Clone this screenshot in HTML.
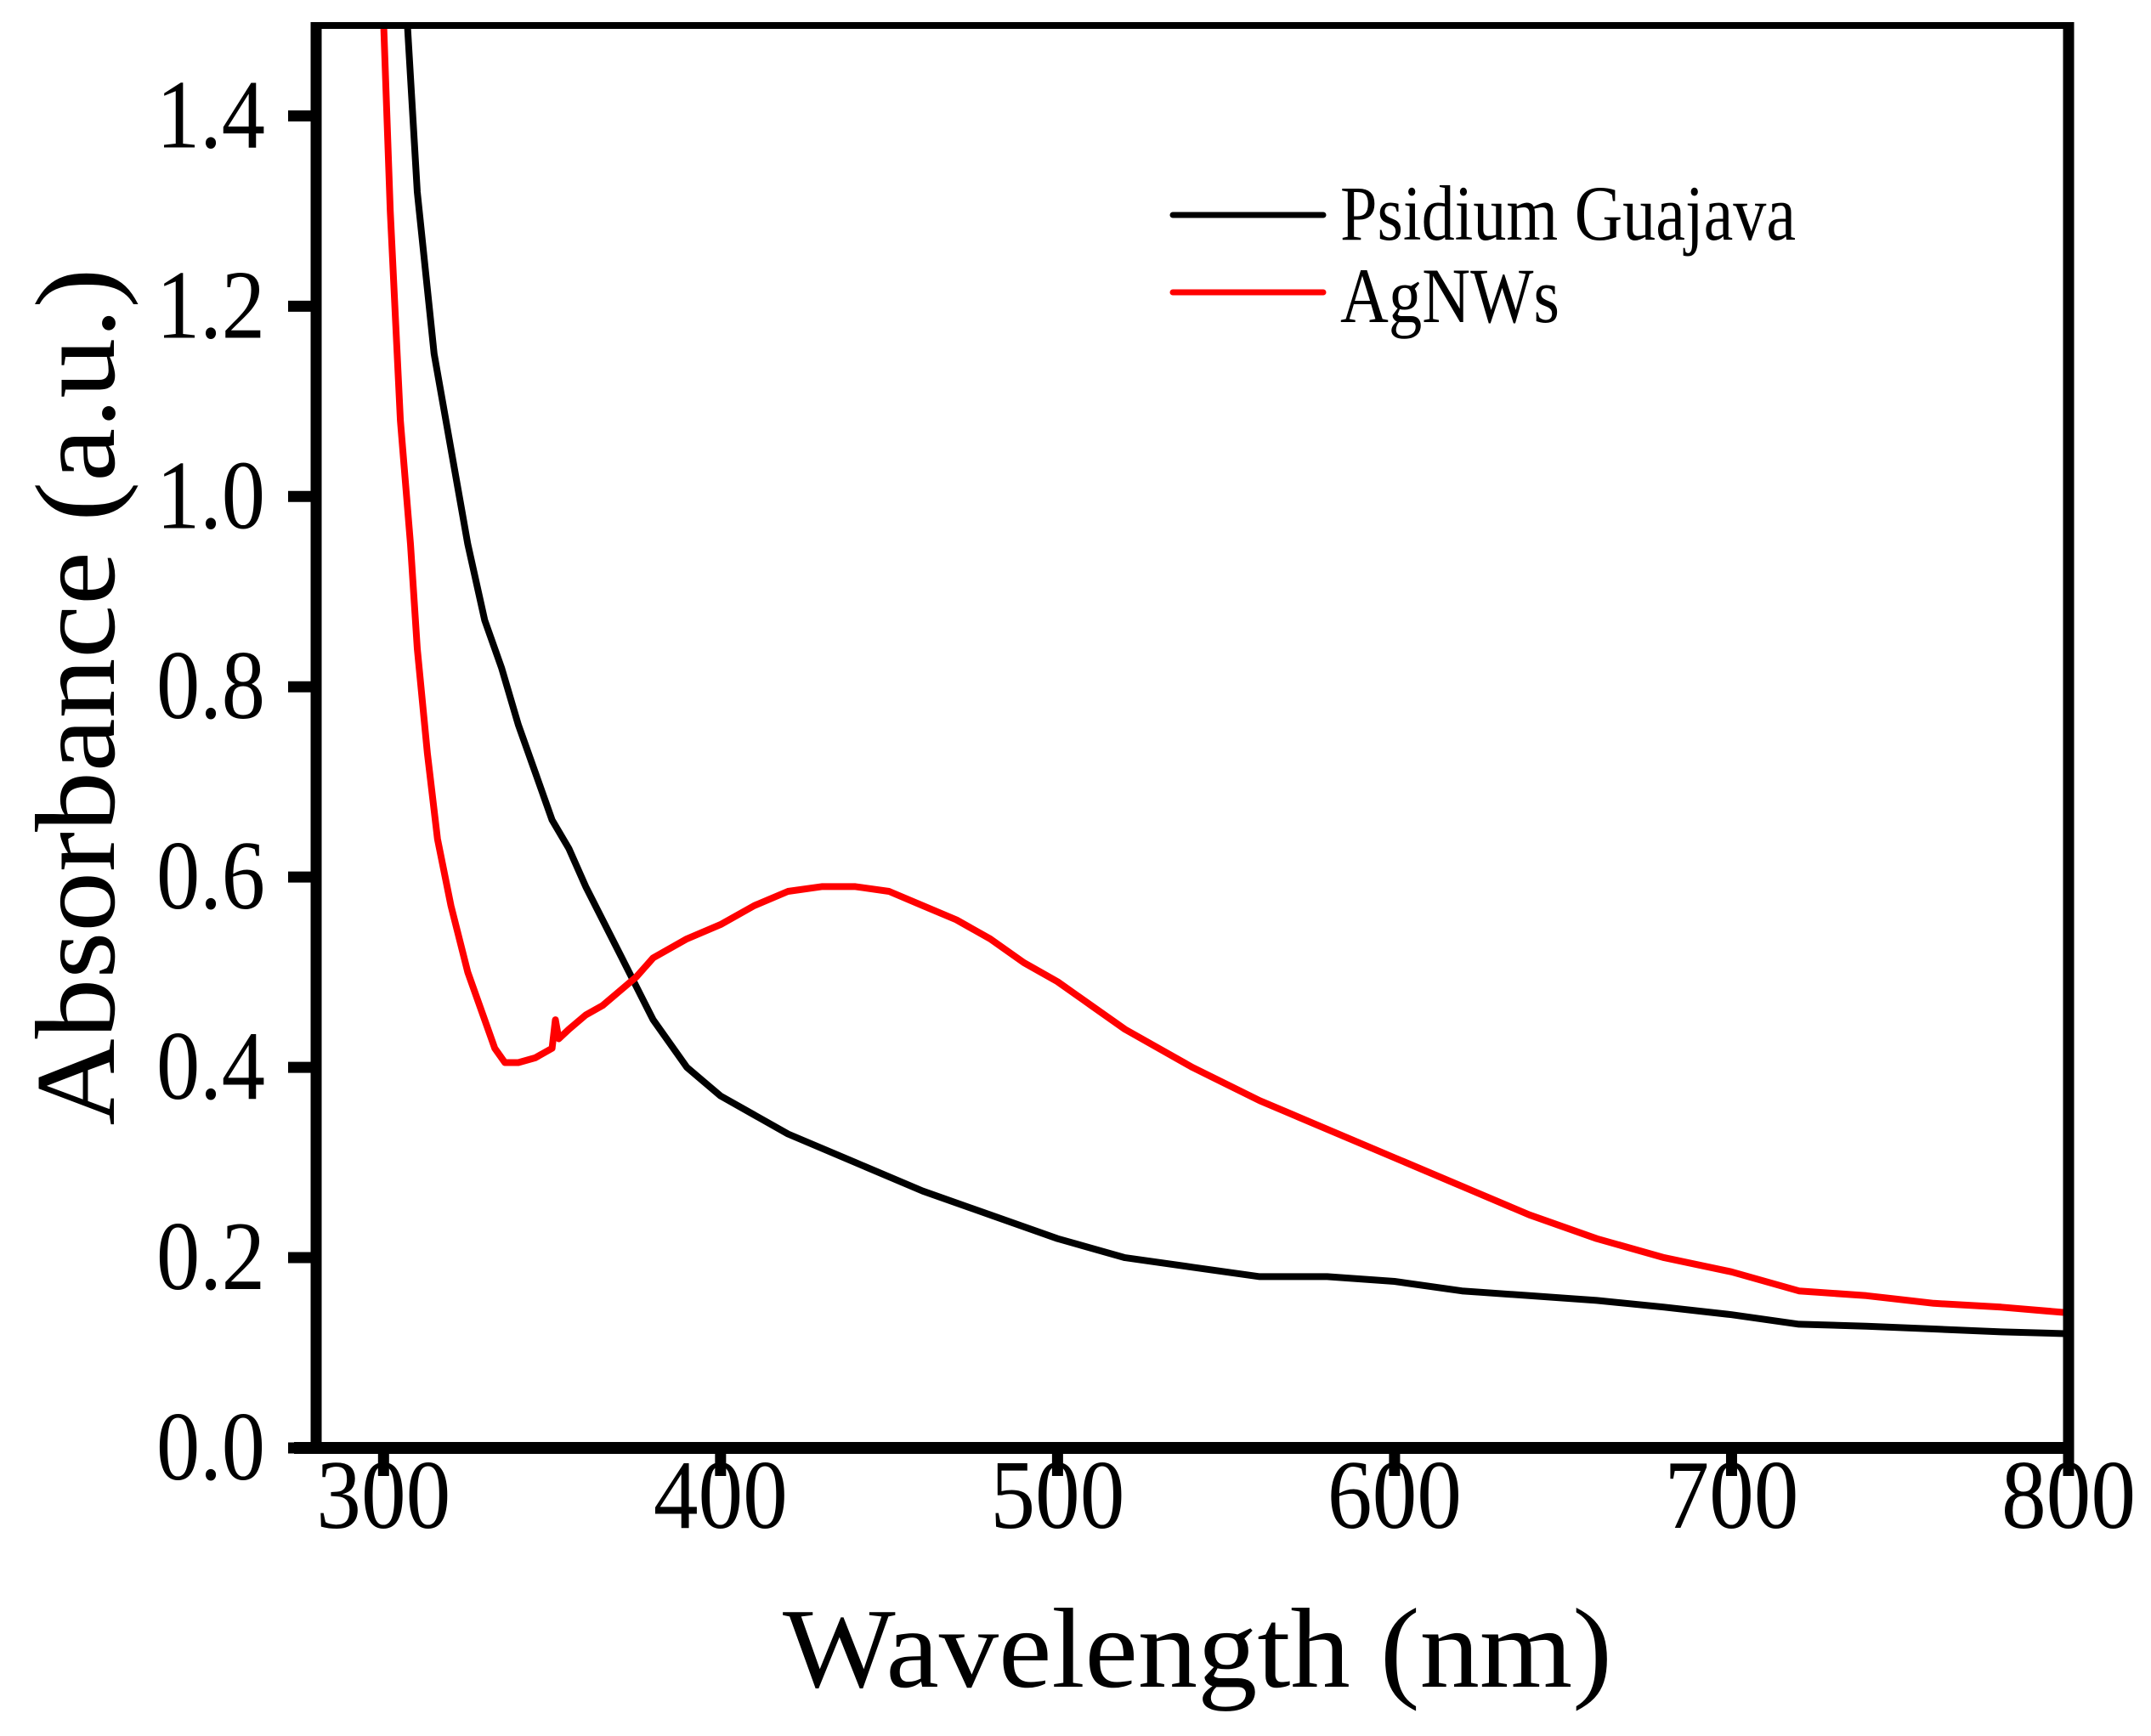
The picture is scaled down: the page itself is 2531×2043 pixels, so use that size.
<!DOCTYPE html>
<html><head><meta charset="utf-8"><style>
html,body{margin:0;padding:0;background:#fff;}
svg{display:block;}
text{font-family:"Liberation Serif","Times New Roman",serif;fill:#000;}
</style></head><body>
<svg id="chart" width="2531" height="2043" viewBox="0 0 2531 2043" xmlns="http://www.w3.org/2000/svg">
<defs><clipPath id="plotclip"><rect x="372" y="30" width="2062" height="1674"/></clipPath></defs>
<g id="series" clip-path="url(#plotclip)"></g>
<g id="axes"></g>
</svg>
<script>
const xTicks = [300, 400, 500, 600, 700, 800];
const yTicks = [0.0, 0.2, 0.4, 0.6, 0.8, 1.0, 1.2, 1.4];
const guavaX = [305,307,310,315,320,325,330,335,340,345,350,355,360,370,380,390,400,420,440,460,480,500,520,540,560,580,600,620,640,660,680,700,720,740,760,780,800];
const guavaY = [1.7,1.5,1.32,1.15,1.05,0.95,0.87,0.82,0.76,0.71,0.66,0.63,0.59,0.52,0.45,0.40,0.37,0.33,0.30,0.27,0.245,0.22,0.20,0.19,0.18,0.18,0.175,0.165,0.16,0.155,0.148,0.14,0.13,0.128,0.125,0.122,0.12];
const agX = [299,300,302,305,308,310,313,316,320,325,330,333,336,340,345,350,351,352,355,360,365,370,375,380,390,400,410,420,430,440,450,460,470,480,490,500,510,520,540,560,580,600,620,640,660,680,700,720,740,760,780,800];
const agY = [1.7,1.5,1.3,1.08,0.95,0.84,0.73,0.64,0.57,0.5,0.45,0.42,0.405,0.405,0.41,0.42,0.45,0.43,0.44,0.455,0.465,0.48,0.495,0.515,0.535,0.55,0.57,0.585,0.59,0.59,0.585,0.57,0.555,0.535,0.51,0.49,0.465,0.44,0.40,0.365,0.335,0.305,0.275,0.245,0.22,0.2,0.185,0.165,0.16,0.152,0.148,0.142];

const X0=372, X1=2434, Y0=1704, Y1=30, XMIN=280, XMAX=800, YMIN=0, YMAX=1.495;
function sx(v){return X0+(v-XMIN)/(XMAX-XMIN)*(X1-X0);}
function sy(v){return Y0-(v-YMIN)/(YMAX-YMIN)*(Y0-Y1);}
const NS="http://www.w3.org/2000/svg";
function mk(tag,attrs,parent){const e=document.createElementNS(NS,tag);for(const k in attrs)e.setAttribute(k,attrs[k]);parent.appendChild(e);return e;}
const series=document.getElementById('series'), axes=document.getElementById('axes');

function line(xs,ys,color,name){
  const d=xs.map((x,i)=>(i?'L':'M')+sx(x).toFixed(1)+' '+sy(ys[i]).toFixed(1)).join(' ');
  const p=mk('path',{d:d,fill:'none',stroke:color,'stroke-width':8,'stroke-linejoin':'round'},series);
  
  
}
line(guavaX,guavaY,'#000','psidium-guajava-line');
line(agX,agY,'#ff0000','agnws-line');

let f;
f=mk('line',{x1:X0,y1:Y1-4,x2:X0,y2:Y0+7,stroke:'#000','stroke-width':13},axes);


f=mk('line',{x1:X1,y1:Y1-4,x2:X1,y2:Y0+7,stroke:'#000','stroke-width':13},axes);


f=mk('line',{x1:X0-6,y1:Y1,x2:X1+6,y2:Y1,stroke:'#000','stroke-width':8},axes);


f=mk('line',{x1:X0-26,y1:Y0,x2:X1+6,y2:Y0,stroke:'#000','stroke-width':14},axes);



xTicks.forEach(v=>{
  const t=mk('line',{x1:sx(v),y1:Y0,x2:sx(v),y2:Y0+33,stroke:'#000','stroke-width':13},axes);
  
  
  const l=mk('text',{x:sx(v),y:Y0+94,'text-anchor':'middle','font-size':116,textLength:158,lengthAdjust:'spacingAndGlyphs'},axes);
  l.textContent=String(v);
  
  
});
yTicks.forEach(v=>{
  const t=mk('line',{x1:X0-33,y1:sy(v),x2:X0,y2:sy(v),stroke:'#000','stroke-width':13},axes);
  
  
  const l=mk('text',{x:312,y:sy(v)+37,'text-anchor':'end','font-size':116,textLength:128,lengthAdjust:'spacingAndGlyphs'},axes);
  l.textContent=v.toFixed(1);
  
  
});

let t=mk('text',{x:1409,y:1985,'text-anchor':'middle','font-size':134,textLength:976,lengthAdjust:'spacingAndGlyphs'},axes);
t.textContent='Wavelength (nm)';


t=mk('text',{x:0,y:0,'text-anchor':'middle','font-size':134,textLength:1009,lengthAdjust:'spacingAndGlyphs',transform:'translate(134,820) rotate(-90)'},axes);
t.textContent='Absorbance (a.u.)';



const lg=mk('g',{},axes);


[['Psidium Guajava','#000',253,282,536],['AgNWs','#ff0000',344,379,258]].forEach(([name,c,y,by,w])=>{
  const s=mk('line',{x1:1380,y1:y,x2:1557,y2:y,stroke:c,'stroke-width':7,'stroke-linecap':'round'},lg);
  
  
  const tx=mk('text',{x:1577,y:by,'font-size':92,textLength:w,lengthAdjust:'spacingAndGlyphs'},lg);
  tx.textContent=name;
  
  
});
</script>
</body></html>
